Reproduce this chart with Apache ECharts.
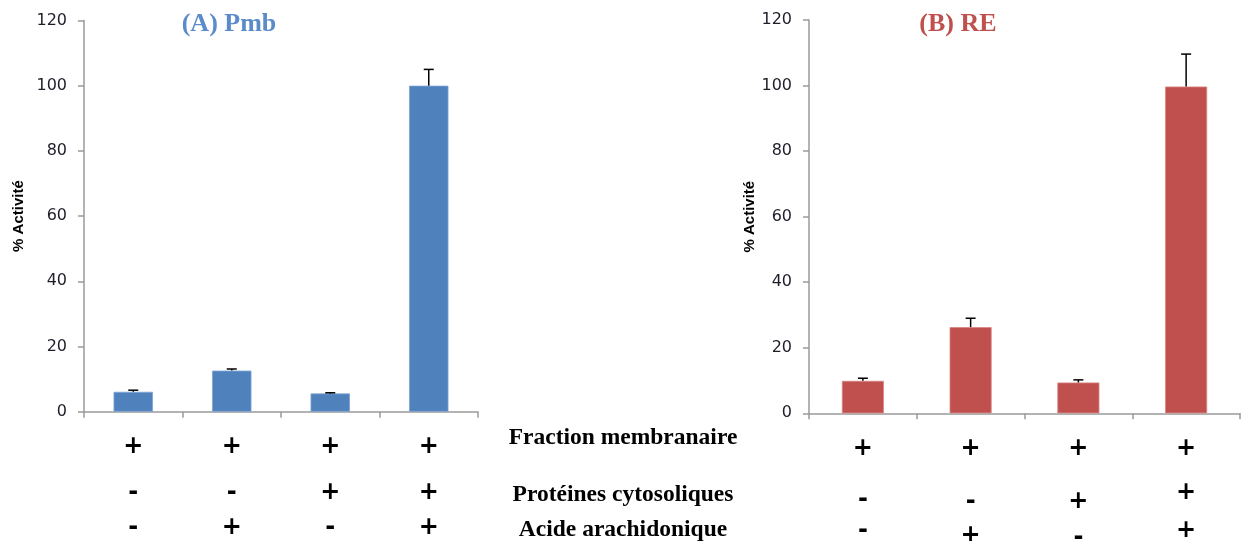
<!DOCTYPE html>
<html>
<head>
<meta charset="utf-8">
<script src="https://cdn.jsdelivr.net/npm/echarts@6/dist/echarts.min.js"></script>
<style>
html,body{margin:0;padding:0;background:#fff;}
#chart{width:1241px;height:541px;}
</style>
</head>
<body>
<div id="chart"></div>
<script>
// ---- data ----
const categories = ['C1', 'C2', 'C3', 'C4'];
const membrane = ['+', '+', '+', '+'];
const cytosol = ['-', '-', '+', '+'];
const arachidonic = ['-', '+', '-', '+'];
const rowNames = ['Fraction membranaire', 'Protéines cytosoliques', 'Acide arachidonique'];
const valuesA = [6.1, 12.6, 5.6, 100];
const errorsA = [0.5, 0.5, 0.2, 5];
const valuesB = [9.9, 26.3, 9.4, 99.7];
const errorsB = [0.8, 2.7, 0.8, 9.9];
const yTicks = [0, 20, 40, 60, 80, 100, 120];
const titleA = '(A) Pmb';
const titleB = '(B) RE';
const yName = '% Activité';

// ---- styles ----
const axisGray = '#9a9a9a';
const labelColor = '#1e1e2a';
const signFont = 'DejaVu Sans';
const rightRow2LH = [52, 56, 56, 38];
const rightRow3LH = [10, 12, 16, 38];
const rowY = [438, 495, 530];

const chart = echarts.init(document.getElementById('chart'), null, {renderer: 'canvas'});

function errRender(values, errors) {
  return function (params, api) {
    const i = params.dataIndex;
    const x = api.value(0);
    const base = api.coord([x, values[i]]);
    const top = api.coord([x, values[i] + errors[i]]);
    const half = 5;
    return {
      type: 'group',
      children: [
        {type: 'line', shape: {x1: base[0], y1: base[1], x2: top[0], y2: top[1]},
         style: {stroke: '#000', lineWidth: 1.5}},
        {type: 'line', shape: {x1: top[0] - half, y1: top[1], x2: top[0] + half, y2: top[1]},
         style: {stroke: '#000', lineWidth: 1.5}}
      ]
    };
  };
}

function signStyle(lh) {
  return {lineHeight: lh, fontFamily: signFont, fontWeight: 'bold', fontSize: 24, color: '#000'};
}
const leftRich = {r1: signStyle(50), r2: signStyle(42), r3: signStyle(28)};
const rightRich = {r1: signStyle(50)};
for (let i = 0; i < 4; i++) {
  rightRich['a' + i] = signStyle(rightRow2LH[i]);
  rightRich['b' + i] = signStyle(rightRow3LH[i]);
}

function xAxisCfg(gridIndex, rich, fmt) {
  return {
    type: 'category', gridIndex: gridIndex, data: categories,
    axisLine: {lineStyle: {color: axisGray, width: 1.5}},
    axisTick: {show: true, length: 6, lineStyle: {color: axisGray, width: 1.5}},
    axisLabel: {margin: 10, formatter: fmt, rich: rich, interval: 0}
  };
}
function yAxisCfg(gridIndex, gap) {
  return {
    type: 'value', gridIndex: gridIndex, min: 0, max: 120, interval: 20,
    splitLine: {show: false},
    axisLine: {show: true, lineStyle: {color: axisGray, width: 1.5}},
    axisTick: {show: true, length: 6, lineStyle: {color: axisGray, width: 1.5}},
    axisLabel: {margin: 17, fontFamily: 'DejaVu Sans', fontSize: 16, color: labelColor,
      formatter: v => yTicks.indexOf(v) >= 0 ? String(v) : ''},
    name: yName, nameLocation: 'middle', nameRotate: 90, nameGap: gap,
    nameTextStyle: {fontFamily: 'Liberation Sans', fontWeight: 'bold', fontSize: 15, color: '#000'}
  };
}

const option = {
  animation: false,
  backgroundColor: '#fff',
  title: [
    {text: titleA, left: 224, top: 6, textAlign: 'center',
     textStyle: {fontFamily: 'Liberation Serif', fontWeight: 'bold', fontSize: 26, color: '#5b8bc9'}},
    {text: titleB, left: 953, top: 6, textAlign: 'center',
     textStyle: {fontFamily: 'Liberation Serif', fontWeight: 'bold', fontSize: 26, color: '#c0504d'}}
  ],
  grid: [
    {left: 84, right: 763, top: 20.5, bottom: 129.3, outerBoundsMode: 'none', containLabel: false},
    {left: 809, right: 1, top: 20, bottom: 127.7, outerBoundsMode: 'none', containLabel: false}
  ],
  xAxis: [
    xAxisCfg(0, leftRich, (v, i) => `{r1|${membrane[i]}}\n{r2|${cytosol[i]}}\n{r3|${arachidonic[i]}}`),
    xAxisCfg(1, rightRich, (v, i) => `{r1|${membrane[i]}}\n{a${i}|${cytosol[i]}}\n{b${i}|${arachidonic[i]}}`)
  ],
  yAxis: [yAxisCfg(0, 58), yAxisCfg(1, 45)],
  graphic: rowNames.map((t, k) => ({
    type: 'text',
    style: {text: t, x: 623, y: rowY[k], textAlign: 'center', textVerticalAlign: 'middle',
      font: 'bold 23.5px "Liberation Serif"', fill: '#000'}
  })),
  series: [
    {type: 'bar', xAxisIndex: 0, yAxisIndex: 0, data: valuesA, barWidth: '40%',
     itemStyle: {color: '#4f81bd', borderColor: '#7fa3d3', borderWidth: 0.8}},
    {type: 'custom', xAxisIndex: 0, yAxisIndex: 0, renderItem: errRender(valuesA, errorsA),
     data: categories.map((c, i) => [i, valuesA[i] + errorsA[i]]), z: 5},
    {type: 'bar', xAxisIndex: 1, yAxisIndex: 1, data: valuesB, barWidth: '39%',
     itemStyle: {color: '#c0504d', borderColor: '#d88583', borderWidth: 0.8}},
    {type: 'custom', xAxisIndex: 1, yAxisIndex: 1, renderItem: errRender(valuesB, errorsB),
     data: categories.map((c, i) => [i, valuesB[i] + errorsB[i]]), z: 5}
  ]
};
chart.setOption(option);
</script>
</body>
</html>
